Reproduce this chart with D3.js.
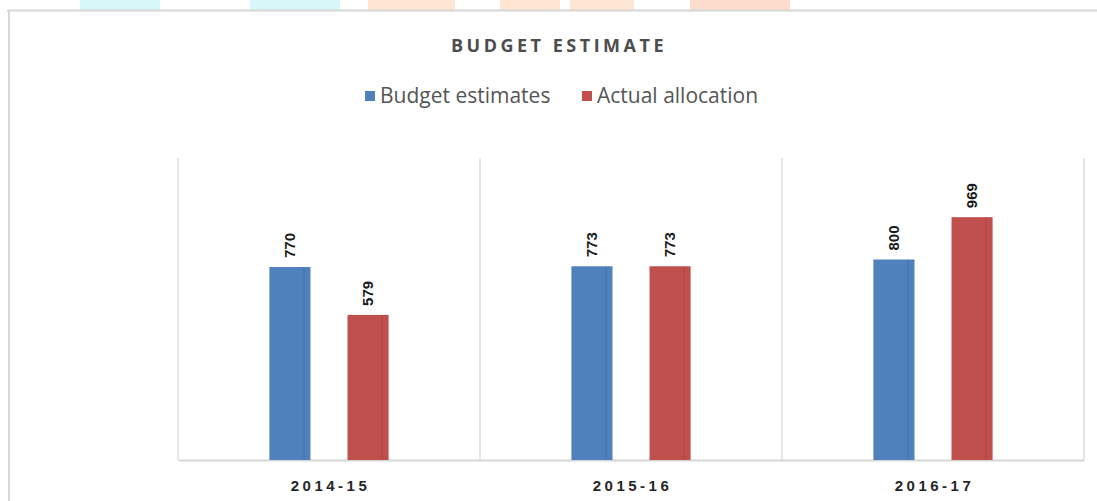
<!DOCTYPE html>
<html>
<head>
<meta charset="utf-8">
<script src="https://cdn.jsdelivr.net/npm/d3@7/dist/d3.min.js"></script>
<style>
  html, body { margin: 0; padding: 0; background: #fff; }
  svg { display: block; }
</style>
</head>
<body>
<svg id="chart" width="1097" height="501"></svg>
<script>
// Chart data
const categories = ["2014-15", "2015-16", "2016-17"];
const seriesNames = ["Budget estimates", "Actual allocation"];
const budgetEstimates = [770, 773, 800];
const actualAllocation = [579, 773, 969];
const seriesColors = ["#4F81BD", "#C0504D"];
const chartTitle = "BUDGET ESTIMATE";

const seriesValues = [budgetEstimates, actualAllocation];

const W = 1097, H = 501;
const plot = { left: 178, right: 1084, top: 158, bottom: 460 };

const svg = d3.select("#chart");

// Decorative header strip
const strip = [
  { x0: 80, x1: 160, c: "#d8f7f9" },
  { x0: 250, x1: 340, c: "#d8f7f9" },
  { x0: 368, x1: 455, c: "#fde7d4" },
  { x0: 500, x1: 560, c: "#fde7d4" },
  { x0: 570, x1: 634, c: "#fde7d4" },
  { x0: 690, x1: 790, c: "#fddccd" }
];
svg.selectAll("rect.strip").data(strip).join("rect")
  .attr("class", "strip")
  .attr("x", d => d.x0).attr("y", 0)
  .attr("width", d => d.x1 - d.x0).attr("height", 11)
  .attr("fill", d => d.c);

// Outer frame (top and left edges)
svg.append("line").attr("x1", 7).attr("x2", W).attr("y1", 10.5).attr("y2", 10.5)
  .attr("stroke", "#d6d6d6").attr("stroke-width", 2);
svg.append("line").attr("x1", 9).attr("x2", 9).attr("y1", 11).attr("y2", H)
  .attr("stroke", "#d6d6d6").attr("stroke-width", 2);

// Scales
const x0 = d3.scaleBand().domain(categories).range([plot.left, plot.right]).padding(0);
const x1 = d3.scaleBand().domain(seriesNames).range([0, x0.bandwidth()])
  .paddingInner(0.474).paddingOuter(1.17);
const y = d3.scaleLinear().domain([0, 1205]).range([plot.bottom, plot.top]);

// Category separators
const seps = [plot.left, ...categories.map(c => x0(c) + x0.bandwidth())];
svg.selectAll("line.sep").data(seps).join("line")
  .attr("class", "sep")
  .attr("x1", d => d).attr("x2", d => d)
  .attr("y1", plot.top).attr("y2", plot.bottom)
  .attr("stroke", "#dcdcdc").attr("stroke-width", 1.5);

// Baseline axis
const xAxis = d3.axisBottom(x0).tickSize(0).tickPadding(20);
const axisG = svg.append("g").attr("transform", `translate(0,${plot.bottom})`).call(xAxis);
axisG.select(".domain").attr("stroke", "#d6d6d6").attr("stroke-width", 2);
axisG.selectAll("text")
  .attr("font-family", "'Liberation Sans Narrow', 'Liberation Sans', sans-serif")
  .attr("font-size", 15).attr("font-weight", "bold")
  .attr("letter-spacing", "3.5px")
  .attr("dx", "1.5px")
  .attr("fill", "#262626");

// Bars
const rows = [];
categories.forEach((c, i) => {
  seriesNames.forEach((s, j) => rows.push({ cat: c, series: s, value: seriesValues[j][i], color: seriesColors[j] }));
});

const groups = svg.append("g");
const bar = groups.selectAll("g.bar").data(rows).join("g").attr("class", "bar")
  .attr("transform", d => `translate(${x0(d.cat) + x1(d.series)},0)`);

bar.append("rect")
  .attr("x", 0).attr("y", d => y(d.value))
  .attr("width", x1.bandwidth()).attr("height", d => y(0) - y(d.value))
  .attr("fill", d => d.color);
// subtle shading stripe on the right edge of each bar
bar.append("rect")
  .attr("x", x1.bandwidth() - 7).attr("y", d => y(d.value))
  .attr("width", 1).attr("height", d => y(0) - y(d.value))
  .attr("fill", "#000").attr("opacity", 0.12);

// Value labels (rotated)
bar.append("text")
  .attr("transform", d => `translate(${x1.bandwidth() / 2 + 5},${y(d.value) - 9}) rotate(-90)`)
  .attr("text-anchor", "start")
  .attr("font-family", "'Liberation Sans', sans-serif")
  .attr("font-size", 15).attr("font-weight", "bold")
  .attr("fill", "#1a1a1a")
  .text(d => d.value);

// Title
svg.append("text")
  .attr("x", 559).attr("y", 52)
  .attr("text-anchor", "middle")
  .attr("font-family", "'Open Sans', sans-serif")
  .attr("font-size", 18).attr("font-weight", "bold")
  .attr("letter-spacing", "3.5px")
  .attr("fill", "#4d4d4d")
  .text(chartTitle);

// Legend
const legendItems = [
  { name: seriesNames[0], color: seriesColors[0], x: 365 },
  { name: seriesNames[1], color: seriesColors[1], x: 582 }
];
const lg = svg.selectAll("g.legend").data(legendItems).join("g").attr("class", "legend")
  .attr("transform", d => `translate(${d.x},96)`);
lg.append("rect").attr("x", 0).attr("y", -5).attr("width", 10).attr("height", 10)
  .attr("fill", d => d.color);
lg.append("text").attr("x", 15).attr("y", 7)
  .attr("font-family", "'Open Sans', sans-serif")
  .attr("font-size", 21)
  .attr("fill", "#555")
  .text(d => d.name);
</script>
</body>
</html>
